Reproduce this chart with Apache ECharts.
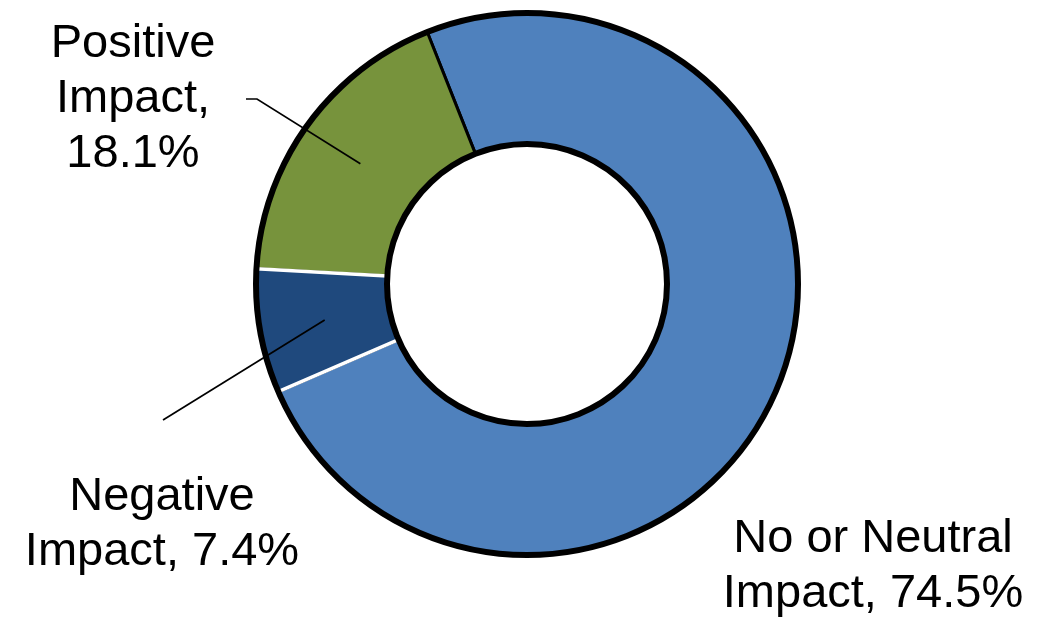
<!DOCTYPE html>
<html>
<head>
<meta charset="utf-8">
<script src="https://cdn.jsdelivr.net/npm/echarts@6/dist/echarts.min.js"></script>
<style>
  html, body { margin: 0; padding: 0; background: #ffffff; }
  #chart { width: 1048px; height: 620px; }
</style>
</head>
<body>
<div id="chart"></div>
<script>
// Share of responses by reported impact (percent)
const categories = ['No or Neutral Impact', 'Negative Impact', 'Positive Impact'];
const shares = [74.5, 7.4, 18.1];
// Label text before the percentage, with its line breaks
const labelHeads = ['No or Neutral\nImpact, ', 'Negative\nImpact, ', 'Positive\nImpact,\n'];

const colors = ['#4f81bd', '#1f497d', '#77933c'];

// Ring geometry
const CX = 527, CY = 284, R_IN = 140, R_OUT = 271;
const START = 111.6; // degrees, counter-clockwise from 3 o'clock

// Label block centres and leader-line end points
const labelCentres = [[873, 567], [162, 525], [133, 99]];
const leaderTails = [null, [[163, 420]], [[257, 99], [246, 99]]];

function midPoint(i) {
  let cum = 0;
  for (let k = 0; k < i; k++) cum += shares[k];
  const total = shares.reduce((a, b) => a + b, 0);
  const mid = (START - (cum + shares[i] / 2) / total * 360) * Math.PI / 180;
  const r = (R_IN + R_OUT) / 2;
  return [CX + r * Math.cos(mid), CY - r * Math.sin(mid)];
}

const chart = echarts.init(document.getElementById('chart'), null, { renderer: 'canvas' });

const common = {
  type: 'pie',
  center: [CX, CY],
  radius: [R_IN, R_OUT],
  startAngle: START,
  clockwise: true,
  silent: true,
  avoidLabelOverlap: false,
  emphasis: { disabled: true },
  animation: false
};

chart.setOption({
  backgroundColor: '#ffffff',
  animation: false,
  series: [
    // Filled slices, black edges
    Object.assign({}, common, {
      name: 'Impact',
      z: 1,
      itemStyle: { borderColor: '#000000', borderWidth: 3 },
      label: { show: false },
      labelLine: { show: false },
      data: categories.map((name, i) => ({
        name: name,
        value: shares[i],
        itemStyle: { color: colors[i] }
      }))
    }),
    // White separators around the negative slice
    Object.assign({}, common, {
      name: 'separators',
      z: 2,
      label: { show: false },
      labelLine: { show: false },
      data: categories.map((name, i) => ({
        name: name,
        value: shares[i],
        itemStyle: i === 1
          ? { color: colors[1], borderColor: '#ffffff', borderWidth: 3.5 }
          : { color: 'rgba(0,0,0,0)', borderWidth: 0 }
      }))
    }),
    // Black outer and inner outline of the ring
    Object.assign({}, common, {
      name: 'outline',
      z: 3,
      label: { show: false },
      labelLine: { show: false },
      data: [{
        name: 'ring',
        value: 1,
        itemStyle: { color: 'rgba(0,0,0,0)', borderColor: '#000000', borderWidth: 6 }
      }]
    }),
    // Data labels and leader lines, drawn on top
    Object.assign({}, common, {
      name: 'labels',
      z: 4,
      itemStyle: { color: 'rgba(0,0,0,0)', borderWidth: 0 },
      label: {
        show: true,
        position: 'outside',
        fontFamily: 'Liberation Sans, Arial, sans-serif',
        fontSize: 47,
        lineHeight: 55,
        color: '#000000',
        align: 'center',
        formatter: p => labelHeads[p.dataIndex] + p.value.toFixed(1) + '%'
      },
      labelLine: { show: true, lineStyle: { color: '#000000', width: 1.7 } },
      labelLayout: function (params) {
        const i = params.dataIndex;
        const c = labelCentres[i];
        const out = { x: c[0], y: c[1], align: 'center', verticalAlign: 'middle' };
        if (leaderTails[i]) {
          out.labelLinePoints = [midPoint(i)].concat(leaderTails[i]);
        }
        return out;
      },
      data: categories.map((name, i) => ({
        name: name,
        value: shares[i],
        labelLine: { show: i !== 0 }
      }))
    })
  ]
});
</script>
</body>
</html>
